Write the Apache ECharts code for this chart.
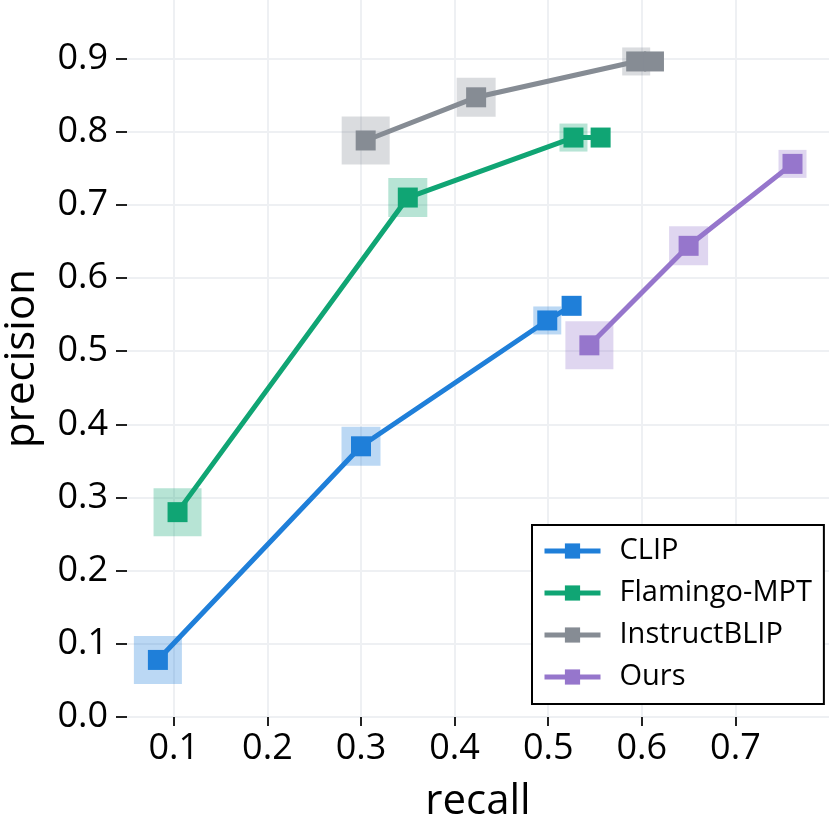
<!DOCTYPE html>
<html>
<head>
<meta charset="utf-8">
<script src="https://cdn.jsdelivr.net/npm/echarts@6/dist/echarts.min.js"></script>
<style>
  html, body { margin: 0; padding: 0; background: #fff; }
  #chart { width: 831px; height: 830px; }
</style>
</head>
<body>
<div id="chart"></div>
<script>
  // 每个模型的 recall / precision
  const names = ['CLIP', 'Flamingo-MPT', 'InstructBLIP', 'Ours'];
  const colors = ['#1f7fd9', '#10a574', '#868c94', '#9676cc'];

  const clipRecall = [0.083, 0.300, 0.499, 0.525];
  const clipPrecision = [0.078, 0.370, 0.542, 0.562];
  const flamingoRecall = [0.104, 0.350, 0.527, 0.556];
  const flamingoPrecision = [0.280, 0.710, 0.792, 0.792];
  const instructRecall = [0.305, 0.423, 0.594, 0.613];
  const instructPrecision = [0.788, 0.847, 0.896, 0.896];
  const oursRecall = [0.544, 0.650, 0.761];
  const oursPrecision = [0.508, 0.644, 0.756];

  // 外面那层半透明方块的大小（只有前三个点有）
  const haloSizes = [48, 39, 28];

  const xTicks = [0.1, 0.2, 0.3, 0.4, 0.5, 0.6, 0.7];
  const yTicks = [0.0, 0.1, 0.2, 0.3, 0.4, 0.5, 0.6, 0.7, 0.8, 0.9];

  const recalls = [clipRecall, flamingoRecall, instructRecall, oursRecall];
  const precisions = [clipPrecision, flamingoPrecision, instructPrecision, oursPrecision];

  const pairs = (xs, ys) => xs.map((x, i) => [x, ys[i]]);

  const series = [];
  names.forEach((name, k) => {
    const pts = pairs(recalls[k], precisions[k]);
    // 半透明的大方块，画在线的下面
    series.push({
      name: name + ' halo',
      type: 'scatter',
      symbol: 'rect',
      z: 1,
      silent: true,
      data: pts.slice(0, haloSizes.length),
      symbolSize: (val, p) => haloSizes[p.dataIndex],
      itemStyle: { color: colors[k], opacity: 0.3 }
    });
    series.push({
      name: name,
      type: 'line',
      z: 3,
      symbol: 'rect',
      symbolSize: 20,
      showAllSymbol: true,
      data: pts,
      lineStyle: { color: colors[k], width: 5 },
      itemStyle: { color: colors[k], borderWidth: 0 }
    });
  });

  const chart = echarts.init(document.getElementById('chart'));
  const font = '"Open Sans", "Noto Sans", sans-serif';
  const option = {
    animation: false,
    backgroundColor: '#fff',
    textStyle: { fontFamily: font },
    grid: { left: 127, right: 2, top: 0, bottom: 113, outerBoundsMode: 'none' },
    xAxis: {
      type: 'value',
      min: 0.05,
      max: 0.8,
      name: 'recall',
      nameLocation: 'middle',
      nameGap: 64,
      nameTextStyle: { fontSize: 42, color: '#000', fontFamily: font },
      axisLine: { show: false },
      axisTick: { show: true, length: 9, customValues: xTicks, lineStyle: { color: '#222', width: 2 } },
      axisLabel: {
        customValues: xTicks,
        fontSize: 36, color: '#000', margin: 14, fontFamily: font,
        formatter: v => v.toFixed(1)
      },
      splitLine: { show: true, lineStyle: { color: '#eef0f3', width: 2 } }
    },
    yAxis: {
      type: 'value',
      min: 0,
      max: 0.98,
      name: 'precision',
      nameLocation: 'middle',
      nameGap: 84,
      nameTextStyle: { fontSize: 42, color: '#000', fontFamily: font },
      axisLine: { show: false },
      axisTick: { show: true, length: 11, customValues: yTicks, lineStyle: { color: '#222', width: 2 } },
      axisLabel: {
        customValues: yTicks,
        fontSize: 36, color: '#000', margin: 19, fontFamily: font,
        formatter: v => v.toFixed(1)
      },
      splitLine: { show: true, lineStyle: { color: '#eef0f3', width: 2 } }
    },
    legend: {
      data: names,
      orient: 'vertical',
      left: 532,
      top: 525,
      padding: [9, 12, 10, 10],
      itemGap: 8,
      itemWidth: 56,
      itemHeight: 19,
      borderColor: '#000',
      borderWidth: 2,
      backgroundColor: '#fff',
      lineStyle: { width: 5 },
      textStyle: { fontSize: 29, color: '#000', lineHeight: 34, padding: [0, 0, 0, 14], fontFamily: font }
    },
    series: series
  };
  chart.setOption(option);
</script>
</body>
</html>
